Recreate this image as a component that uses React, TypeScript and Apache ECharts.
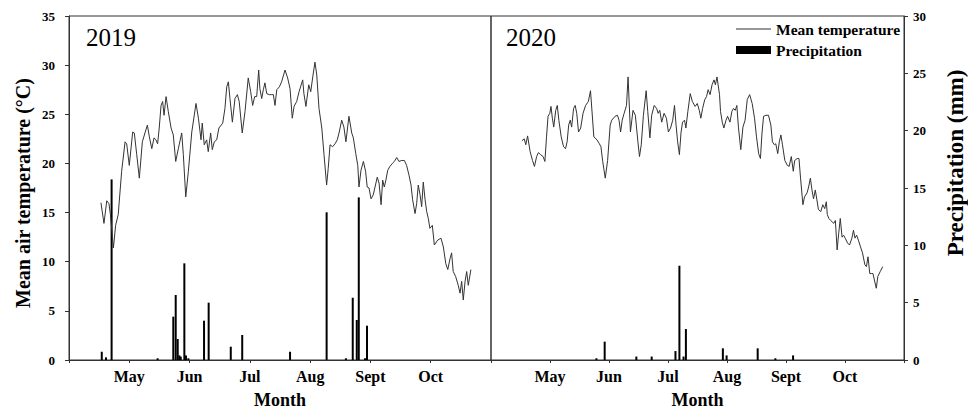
import React, { useEffect, useRef } from "react";
import * as echarts from "echarts";

// x axis: day index from mid-April (ticks every 30 days)
const monthTicks = ["", "May", "Jun", "Jul", "Aug", "Sept", "Oct", ""];

// 2019 daily mean air temperature [day, °C]
const temp2019: number[][] = [
  [15.9, 16.0], [17.4, 13.9], [18.8, 16.2], [19.9, 15.9], [20.6, 14.8], [22.1, 11.4], [23.2, 13.7], [24.5, 14.8],
  [26.2, 19.2], [27.9, 22.2], [28.7, 22.0], [30, 19.8], [31.7, 23.2], [32.5, 23.1], [33.7, 20.9], [35, 18.5],
  [36.5, 22.2], [37.8, 23.1], [39, 23.9], [40, 22.7], [41.2, 21.5], [42.3, 22.6], [43.3, 22.4], [44.1, 22.0],
  [44.9, 23.6], [45.8, 25.9], [46.6, 26.3], [47.3, 24.9], [48.3, 26.8], [49.4, 25.3], [50.8, 23.6], [51.9, 22.9],
  [53.1, 20.2], [54.4, 21.5], [56.1, 23.1], [56.9, 20.9], [58.1, 16.6], [59.4, 19.2], [61.1, 23.2], [63.2, 26.1],
  [64.4, 24.6], [65.7, 22.4], [66.3, 24.1], [67.3, 21.9], [68.5, 22.4], [69.3, 21.2], [70.5, 23.1], [71.3, 21.4],
  [72.3, 22.2], [73.5, 22.4], [74.6, 23.6], [76.5, 24.1], [77.6, 25.6], [78.5, 27.8], [79.3, 28.3], [80.1, 26.6],
  [81.3, 24.2], [82.6, 26.6], [83.8, 27.0], [84.7, 26.3], [86.2, 23.1], [87.6, 25.3], [89.2, 28.7], [90.4, 27.3],
  [91.4, 25.9], [92.4, 26.8], [93.4, 26.8], [94.4, 29.5], [95, 27.6], [95.9, 26.6], [96.7, 27.5], [97.5, 28.2],
  [98.4, 27.1], [99.7, 27.0], [100.9, 27.0], [101.7, 27.0], [102.5, 25.9], [103.4, 27.5], [104.7, 27.8], [105.8, 28.3],
  [107.5, 29.5], [108.8, 28.7], [110, 27.6], [111.1, 24.6], [112, 25.8], [113.3, 26.3], [114.5, 27.3], [116.3, 28.5],
  [116.9, 27.1], [117.9, 25.8], [119.3, 28.0], [120.3, 27.3], [121.3, 28.8], [122.4, 30.3], [123.3, 29.0], [124.4, 25.6],
  [125.8, 23.6], [126.9, 20.9], [128.2, 17.8], [129, 19.5], [129.9, 21.9], [131.2, 21.7], [132.4, 22.0], [133.5, 22.4],
  [134.5, 23.2], [135.7, 24.4], [136.8, 23.7], [137.8, 22.2], [139.3, 24.8], [140.7, 23.1], [141.5, 22.6], [142.7, 21.0],
  [143.7, 19.8], [144.3, 17.6], [145.3, 19.3], [146.5, 20.2], [147.6, 19.2], [148.4, 17.6], [149.3, 17.5], [150.3, 16.4],
  [151.4, 16.8], [153.4, 18.6], [154.3, 18.0], [155.3, 15.8], [156.1, 18.3], [156.9, 17.6], [157.7, 18.3], [158.6, 19.3],
  [159.7, 19.7], [160.9, 20.0], [161.9, 20.2], [163.1, 20.6], [164.2, 20.2], [165.6, 20.3], [166.9, 20.3], [168, 19.8],
  [169.2, 18.8], [170.2, 17.8], [171, 16.3], [172.2, 14.9], [173, 15.9], [173.8, 17.8], [174.7, 16.8], [175.5, 15.6],
  [176.3, 18.1], [177.2, 16.3], [178, 15.1], [178.8, 14.4], [179.6, 13.4], [180.8, 13.7], [181.8, 11.7], [183.5, 12.2],
  [185.1, 12.4], [186.3, 11.5], [187.5, 9.8], [188.5, 9.2], [189.6, 10.3], [190.4, 10.9], [191.2, 9.0], [192.4, 8.5],
  [193.7, 7.6], [194.6, 6.8], [195.4, 8.0], [196.2, 6.1], [197.1, 8.0], [197.9, 9.0], [198.7, 7.6], [200, 9.2],
];

// 2020 daily mean air temperature [day, °C]
const temp2020: number[][] = [
  [15.7, 22.3], [16.9, 22.5], [17.7, 21.9], [18.6, 22.8], [19.9, 21.2], [21.1, 20.3], [22.1, 19.7], [23.2, 20.7],
  [24.1, 21.1], [25.2, 20.9], [26.5, 20.7], [27.4, 20.2], [28.2, 22.6], [29, 24.8], [29.9, 25.1], [30.5, 25.8],
  [31.2, 24.6], [31.9, 23.7], [32.9, 25.4], [33.7, 25.9], [34.5, 24.4], [35.7, 22.7], [36.9, 21.7], [37.9, 21.5],
  [38.7, 22.2], [39.5, 23.9], [40.3, 24.4], [41, 23.7], [42, 25.6], [42.8, 25.9], [43.6, 25.1], [44.5, 23.2],
  [45.6, 23.6], [46.8, 25.1], [48.1, 25.9], [49.5, 26.3], [50.6, 27.4], [52.3, 22.7], [53.9, 22.4], [55.1, 22.0],
  [55.9, 21.7], [56.8, 20.2], [58.1, 18.5], [59.3, 20.3], [60.6, 23.9], [61.4, 24.4], [63.1, 24.8], [64.3, 24.9],
  [65.1, 24.4], [65.9, 23.2], [66.7, 24.4], [67.7, 25.1], [68.9, 25.9], [69.7, 28.8], [70.9, 23.2], [72.2, 25.4],
  [73.4, 24.9], [74.7, 22.2], [75.5, 20.7], [76.4, 21.9], [77.5, 24.9], [78.9, 27.4], [79.7, 25.3], [80.8, 22.6],
  [81.7, 24.9], [83, 25.9], [84.2, 25.6], [85, 25.1], [85.8, 25.4], [86.8, 24.2], [88, 25.1], [89.2, 24.6],
  [90.2, 23.2], [91.3, 23.6], [92.4, 24.4], [93.3, 25.9], [94.1, 23.9], [94.9, 22.2], [95.8, 20.9], [96.6, 23.1],
  [97.4, 24.2], [98.4, 24.4], [99.1, 23.6], [100.1, 25.3], [101.3, 27.1], [102.4, 26.3], [103.8, 25.8], [104.9, 26.1],
  [105.9, 25.4], [106.7, 24.6], [107.6, 25.6], [108.7, 26.5], [109.6, 26.8], [110.4, 27.5], [111.4, 27.0], [112.4, 28.0],
  [113.4, 28.5], [114.1, 28.0], [114.9, 28.8], [116.2, 27.0], [116.7, 25.3], [117.6, 24.2], [118.4, 23.6], [119.5, 24.4],
  [120.3, 24.8], [121.5, 24.2], [122.5, 25.3], [123.3, 25.6], [124.2, 25.4], [125, 25.9], [125.8, 23.7], [127, 21.4],
  [128.1, 23.7], [129.2, 24.4], [130.3, 26.5], [131.5, 27.0], [132.8, 26.1], [134, 24.6], [135, 22.7], [136.1, 21.0],
  [137, 20.5], [137.8, 23.1], [138.6, 24.8], [139.8, 24.9], [141.1, 24.9], [142.3, 23.9], [143.1, 22.2], [144.1, 21.9],
  [144.8, 22.0], [145.8, 21.0], [146.6, 22.2], [147.4, 22.9], [148.2, 21.9], [149.4, 20.3], [150.7, 19.8], [151.6, 19.7],
  [152.7, 20.7], [153.7, 19.2], [154.4, 20.3], [155.7, 20.5], [156.6, 20.5], [157.4, 18.5], [158.6, 15.8], [159.4, 16.6],
  [160.7, 17.0], [161.5, 17.6], [162.4, 18.5], [163.2, 17.3], [164, 16.4], [164.9, 17.3], [165.7, 16.3], [166.5, 15.3],
  [167.7, 15.1], [168.7, 15.8], [169.7, 15.4], [170.5, 16.1], [171, 14.8], [171.8, 14.4], [172.7, 14.2], [174.3, 13.9],
  [175.1, 14.2], [176, 11.2], [176.8, 12.9], [177.6, 14.4], [178.5, 12.5], [179.3, 12.7], [180.1, 12.4], [181.3, 11.9],
  [182.3, 11.7], [183.5, 12.4], [184.3, 13.2], [185.1, 12.4], [185.9, 12.7], [186.8, 12.2], [187.9, 11.5], [188.9, 10.9],
  [190.1, 9.7], [190.9, 9.5], [191.7, 10.5], [192.6, 8.8], [193.4, 8.8], [194.2, 8.8], [195.9, 7.3], [196.7, 8.5],
  [197.9, 9.0], [199.2, 9.5],
];

// Precipitation (mm)
const precipDays2019 = [16.3, 18.4, 21.2, 44.1, 51.9, 53.1, 54.1, 54.9, 55.6, 57.4, 58.2, 59.4, 67.2, 69.5, 80.5, 86.2, 110, 128.2, 137.8, 141.2, 143.2, 144.2, 147.3, 148.3];
const precip2019 = [0.72, 0.23, 15.75, 0.15, 3.78, 5.67, 1.83, 0.4, 0.3, 8.43, 0.4, 0.15, 3.43, 5.0, 1.16, 2.18, 0.72, 12.88, 0.15, 5.43, 3.49, 14.18, 0.15, 2.99];
const precipDays2020 = [53.6, 57.8, 73.9, 81.7, 93.8, 95.8, 97.9, 99.1, 117.9, 119.8, 135.6, 144.6, 153.6];
const precip2020 = [0.15, 1.6, 0.3, 0.3, 0.78, 8.22, 0.3, 2.7, 1.02, 0.4, 1.02, 0.15, 0.4];

const tempTicks = { min: 0, max: 35, interval: 5 };
const precipTicks = { min: 0, max: 30, interval: 5 };
const dayRange = { min: 0, max: 210, interval: 30 };

const FONT = "'Times New Roman', 'Liberation Serif', serif";

export default function App() {
  const ref = useRef<HTMLDivElement>(null);

  useEffect(() => {
    document.body.style.margin = "0";
    if (!ref.current) return;
    const chart = echarts.init(ref.current, undefined, { renderer: "svg" });

    const xAxisBase = (gridIndex: number) => ({
      type: "value",
      gridIndex,
      ...dayRange,
      axisLine: { show: true, lineStyle: { color: "#333", width: 1 } },
      axisTick: { show: true, length: 3, lineStyle: { color: "#333" } },
      splitLine: { show: false },
      axisLabel: {
        margin: 8,
        fontFamily: FONT,
        fontWeight: "bold",
        fontSize: 16,
        color: "#000",
        formatter: (v: number) => monthTicks[Math.round(v / 30)] || "",
      },
      name: "Month",
      nameLocation: "middle",
      nameGap: 31,
      nameTextStyle: { fontFamily: FONT, fontWeight: "bold", fontSize: 18, color: "#000" },
    });

    const lineSeries = (name: string, idx: number, data: number[][]) => ({
      type: "line",
      name,
      xAxisIndex: idx,
      yAxisIndex: idx === 0 ? 0 : 2,
      data,
      symbol: "none",
      lineStyle: { color: "#333", width: 1 },
      itemStyle: { color: "#333" },
      z: 3,
    });

    const barSeries = (name: string, idx: number, days: number[], vals: number[]) => ({
      type: "bar",
      name,
      xAxisIndex: idx,
      yAxisIndex: idx === 0 ? 1 : 3,
      data: days.map((d, i) => [d, vals[i]]),
      barWidth: 2,
      itemStyle: { color: "#000" },
      z: 2,
    });

    chart.setOption({
      animation: false,
      backgroundColor: "#fff",
      grid: [
        { left: 69, top: 16, width: 422, height: 344, show: true, borderColor: "#333", borderWidth: 1, backgroundColor: "transparent" },
        { left: 491, top: 16, width: 422, height: 344, show: true, borderColor: "#333", borderWidth: 1, backgroundColor: "transparent" },
      ],
      xAxis: [xAxisBase(0), xAxisBase(1)],
      yAxis: [
        {
          type: "value",
          gridIndex: 0,
          position: "left",
          ...tempTicks,
          axisLine: { show: true, lineStyle: { color: "#333" } },
          axisTick: { show: true, length: 4, lineStyle: { color: "#333" } },
          splitLine: { show: false },
          axisLabel: { margin: 14, fontFamily: FONT, fontWeight: "bold", fontSize: 13, color: "#000" },
          name: "Mean air temperature (°C)",
          nameLocation: "middle",
          nameGap: 36,
          nameTextStyle: { fontFamily: FONT, fontWeight: "bold", fontSize: 20, color: "#000", padding: [0, 10, 0, 0] },
        },
        { type: "value", gridIndex: 0, position: "right", ...precipTicks, show: false },
        { type: "value", gridIndex: 1, position: "left", ...tempTicks, show: false },
        {
          type: "value",
          gridIndex: 1,
          position: "right",
          ...precipTicks,
          axisLine: { show: true, lineStyle: { color: "#333" } },
          axisTick: { show: true, length: 4, lineStyle: { color: "#333" } },
          splitLine: { show: false },
          axisLabel: { margin: 9, fontFamily: FONT, fontWeight: "bold", fontSize: 13, color: "#000" },
          name: "Precipitation (mm)",
          nameLocation: "middle",
          nameGap: 40,
          nameRotate: 90,
          nameTextStyle: { fontFamily: FONT, fontWeight: "bold", fontSize: 23, color: "#000", padding: [0, 0, 0, 50] },
        },
      ],
      legend: {
        orient: "vertical",
        left: 736,
        top: 21,
        padding: 0,
        itemWidth: 35,
        itemHeight: 8,
        itemGap: 5,
        symbolKeepAspect: true,
        selectedMode: false,
        textStyle: { fontFamily: FONT, fontWeight: "bold", fontSize: 15.5, color: "#000", lineHeight: 16 },
        data: [
          { name: "Mean temperature", icon: "path://M0,0 L35,0 L35,1 L0,1 Z" },
          { name: "Precipitation", icon: "rect" },
        ],
      },
      graphic: [
        { type: "text", left: 86, top: 25, style: { text: "2019", font: `normal 25px ${FONT}`, fill: "#000" } },
        { type: "text", left: 506, top: 25, style: { text: "2020", font: `normal 25px ${FONT}`, fill: "#000" } },
      ],
      series: [
        lineSeries("Mean temperature", 0, temp2019),
        barSeries("Precipitation", 0, precipDays2019, precip2019),
        lineSeries("Mean temperature", 1, temp2020),
        barSeries("Precipitation", 1, precipDays2020, precip2020),
      ],
    });

    return () => chart.dispose();
  }, []);

  return (
    <div
      ref={ref}
      style={{ position: "absolute", left: 0, top: 0, width: 968, height: 414, background: "#fff" }}
    />
  );
}
